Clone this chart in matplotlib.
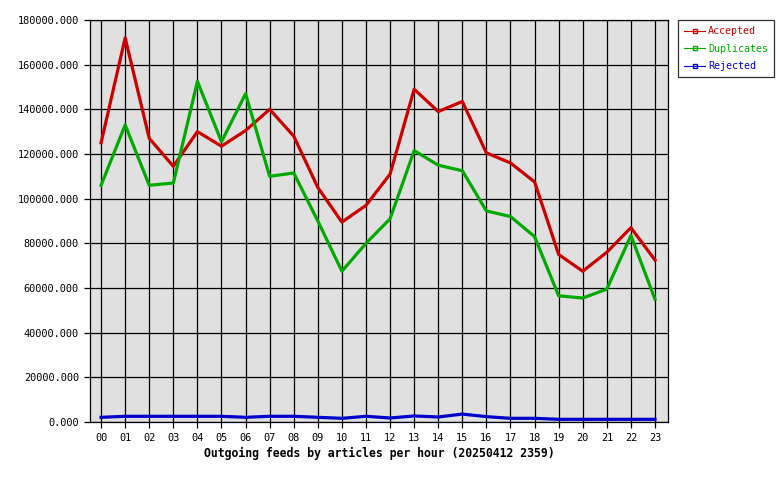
import matplotlib
matplotlib.use("Agg")
import matplotlib.pyplot as plt
from matplotlib.ticker import FormatStrFormatter

hours = ["%02d" % h for h in range(24)]
accepted = [125000, 172000, 127000, 114500, 130000, 123500, 130500, 140000,
            128000, 105000, 89500, 97000, 111000, 149000, 139000, 143500,
            120500, 116000, 107500, 75000, 67500, 76000, 87000, 72500]
duplicates = [106000, 133000, 106000, 107000, 152500, 125500, 147000, 110000,
              111500, 90000, 67500, 80000, 91000, 121500, 115000, 112500,
              94500, 92000, 83000, 56500, 55500, 59500, 83500, 55000]
rejected = [2100, 2550, 2550, 2550, 2550, 2550, 2100, 2550,
            2550, 2100, 1650, 2550, 1800, 2700, 2250, 3550,
            2400, 1650, 1650, 1200, 1200, 1200, 1200, 1200]

plt.rcParams["font.family"] = ["DejaVu Sans Mono"]

fig = plt.figure(figsize=(7.8, 4.8), dpi=100)
ax = fig.add_axes([90 / 780, 58 / 480, 578 / 780, 402 / 480])
ax.set_facecolor("#e0e0e0")

x = list(range(len(hours)))
series = [("Accepted", accepted, "#cc0000"),
          ("Duplicates", duplicates, "#00aa00"),
          ("Rejected", rejected, "#0000cc")]
handles = []
for name, vals, col in series:
    ax.plot(x, vals, color=col, lw=2.3, zorder=3)
    h, = ax.plot([], [], color=col, lw=0.8, marker="s", markersize=2.5,
                 markerfacecolor="none", markeredgecolor=col)
    handles.append(h)

ax.set_xlim(-0.46, 23.54)
ax.set_ylim(0, 180000)
ax.set_xticks(x)
ax.set_xticklabels(hours)
ax.set_yticks(range(0, 180001, 20000))
ax.yaxis.set_major_formatter(FormatStrFormatter("%.3f"))
ax.grid(True, color="black", lw=0.9, zorder=1)
ax.set_axisbelow(True)
for s in ax.spines.values():
    s.set_color("black")
    s.set_linewidth(0.9)
ax.tick_params(labelsize=7.4, length=4, width=0.9, color="black", pad=4)
ax.set_xlabel("Outgoing feeds by articles per hour (20250412 2359)",
              fontsize=8.3, fontweight="bold", labelpad=3)

leg = fig.legend(handles, [s[0] for s in series], loc="upper left",
                 bbox_to_anchor=(678 / 780, 1 - 20 / 480), fontsize=7.2,
                 frameon=True, fancybox=False, edgecolor="black",
                 handlelength=2.1, handletextpad=0.3, borderpad=0.6,
                 labelspacing=0.75, borderaxespad=0)
leg.get_frame().set_linewidth(0.9)
for txt, (_, _, col) in zip(leg.get_texts(), series):
    txt.set_color(col)

fig.savefig("out.png", dpi=100)
